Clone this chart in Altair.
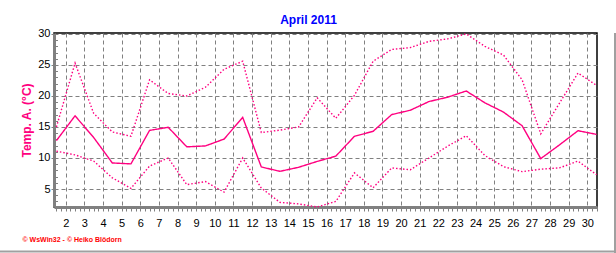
import altair as alt
import pandas as pd

days = list(range(1, 31))
t_max = [15.0, 25.3, 17.2, 14.2, 13.5, 22.6, 20.4, 20.0, 21.4, 24.3,
         25.6, 14.1, 14.5, 15.0, 19.7, 16.4, 20.1, 25.6, 27.5, 27.8,
         28.8, 29.2, 30.0, 28.0, 26.6, 22.6, 13.9, 18.8, 23.7, 21.7]
t_mean = [12.8, 16.8, 13.3, 9.2, 9.05, 14.45, 14.95, 11.8, 11.95, 13.05,
          16.55, 8.55, 7.85, 8.5, 9.45, 10.3, 13.5, 14.3, 17.0, 17.7,
          19.1, 19.8, 20.8, 18.9, 17.4, 15.2, 9.9, 12.1, 14.4, 13.8]
t_min = [11.1, 10.5, 9.5, 6.8, 5.1, 8.7, 10.0, 5.7, 6.2, 4.5,
         10.0, 5.15, 2.85, 2.6, 2.1, 3.0, 7.6, 5.2, 8.4, 8.1,
         10.0, 11.9, 13.6, 10.4, 8.6, 7.8, 8.2, 8.4, 9.5, 7.3]
x_labels = list(range(2, 31))
y_labels = [5, 10, 15, 20, 25, 30]
y_minor = list(range(3, 31))
x_minor = [k / 4 for k in range(6, 123)]

PINK = "#FF0080"
GRAY = "#808080"
FONT = "Liberation Sans"

df = pd.DataFrame({"day": days, "tmax": t_max, "tmean": t_mean, "tmin": t_min})
base = alt.Chart(df).transform_calculate(pos="datum.day + 0.5")

xscale = alt.Scale(domain=[1.37, 30.52], nice=False, zero=False)
yscale = alt.Scale(domain=[2.1, 30.15], nice=False, zero=False)

x_axis = alt.Axis(
    values=x_minor,
    labelExpr="datum.value % 1 === 0 ? format(datum.value, 'd') : ''",
    labelOverlap=False, labelFlush=False,
    labelFont=FONT, labelFontSize=11, labelColor="black", labelPadding=6,
    tickSize=4, tickColor=GRAY, tickWidth=1,
    grid=True, gridColor=GRAY, gridDash=[4, 3], gridWidth=1,
    gridOpacity={"condition": {"test": "datum.value % 1 === 0", "value": 1}, "value": 0},
    domainColor=GRAY, domainWidth=3,
    title="© WsWin32  -  © Heiko Blödorn",
    titleColor="#FF0000", titleFont=FONT, titleFontSize=7, titleFontWeight="bold",
    titleX=-32, titleY=34, titleAlign="left", titleAnchor="start", titleBaseline="alphabetic",
)

y_axis = alt.Axis(
    values=y_labels,
    labelFont=FONT, labelFontSize=11, labelColor="black", labelPadding=1,
    tickSize=3, tickColor=GRAY,
    grid=True, gridColor=GRAY, gridDash=[4, 3], gridWidth=1,
    domainColor=GRAY, domainWidth=3,
    title="Temp. A. (°C)", titleColor=PINK, titleFont=FONT, titleFontSize=12,
    titleFontWeight="bold", titlePadding=4,
)

y_minor_axis = alt.Axis(
    values=y_minor, orient="left", offset=-3.5, tickSize=2, tickColor=GRAY,
    labels=False, domain=False, grid=False, title=None,
)

lines = base.transform_fold(["tmax", "tmean", "tmin"], as_=["series", "temp"]).mark_line(
    color=PINK, strokeWidth=1.4
).encode(
    x=alt.X("pos:Q", scale=xscale, axis=x_axis),
    y=alt.Y("temp:Q", scale=yscale, axis=y_axis),
    detail="series:N",
    strokeDash=alt.StrokeDash(
        "series:N",
        scale=alt.Scale(domain=["tmax", "tmean", "tmin"], range=[[1.5, 2], [1, 0], [1.5, 2]]),
        legend=None,
    ),
)

dummy = base.mark_point(opacity=0).encode(
    x=alt.X("pos:Q", scale=xscale, axis=None),
    y=alt.Y("tmean:Q", scale=yscale, axis=y_minor_axis),
)

frame_df = pd.DataFrame({"a": [0]})
frame_r = alt.Chart(frame_df).mark_rule(color="#A0A0A0", strokeWidth=2).encode(
    x=alt.value(561), y=alt.value(0), y2=alt.value(220)
)
frame_b = alt.Chart(frame_df).mark_rule(color="#A0A0A0", strokeWidth=2).encode(
    x=alt.value(-54), x2=alt.value(562), y=alt.value(218.5)
)

chart = alt.layer(lines, dummy, frame_r, frame_b).resolve_axis(
    x="independent", y="independent"
).properties(
    width=543, height=174,
    autosize=alt.AutoSizeParams(type="none"),
    padding={"left": 54, "top": 33, "right": 19, "bottom": 46},
    title=alt.TitleParams(
        "April 2011", color="#0000FF", font=FONT, fontSize=12, fontWeight="bold",
        anchor="middle", dx=-17, dy=13.5, offset=5, baseline="alphabetic",
    ),
    background="white",
).configure_view(stroke="black", strokeWidth=1.5)

chart.save("out.html", embed_options={"renderer": "svg", "actions": False})
